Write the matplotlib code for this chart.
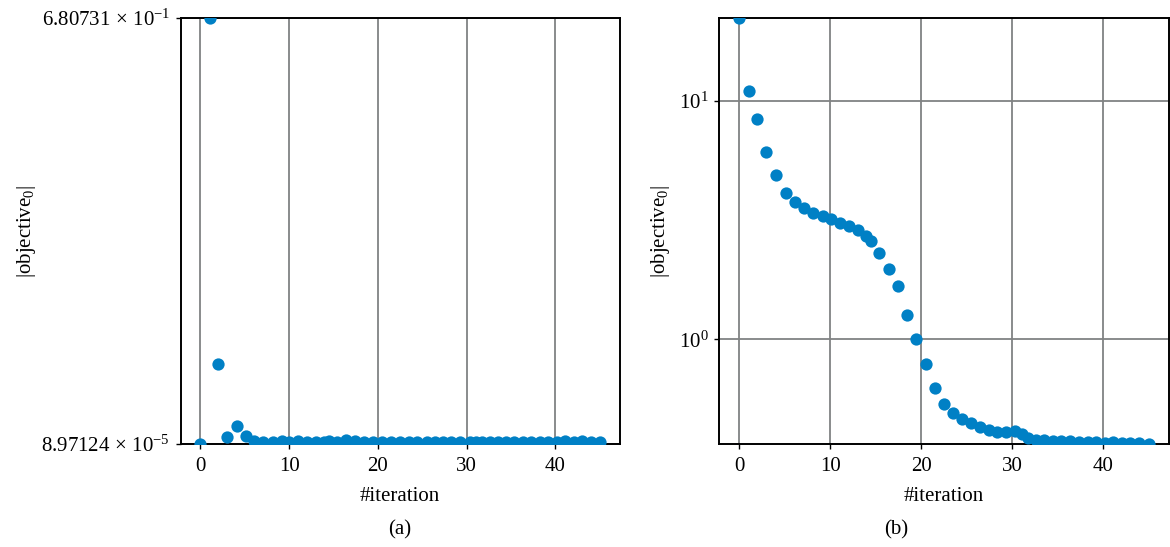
import numpy as np
import matplotlib
matplotlib.use("Agg")
import matplotlib.pyplot as plt
from matplotlib.ticker import NullLocator

plt.rcParams['font.family'] = ['Liberation Serif', 'DejaVu Serif']
plt.rcParams['mathtext.fontset'] = 'custom'
plt.rcParams['mathtext.rm'] = 'Liberation Serif'
plt.rcParams['mathtext.it'] = 'Liberation Serif:italic'
plt.rcParams['font.size'] = 15

# iteration counter (shared by both runs)
iteration = [0.0, 1.03, 1.95, 2.97, 4.07, 5.13, 6.09, 7.1, 8.13, 9.2,
             10.04, 11.03, 12.05, 13.04, 13.9, 14.45, 15.4, 16.45, 17.45, 18.4,
             19.45, 20.5, 21.5, 22.5, 23.5, 24.45, 25.5, 26.45, 27.4, 28.3,
             29.3, 30.35, 31.1, 31.7, 32.6, 33.5, 34.5, 35.4, 36.4, 37.3,
             38.3, 39.2, 40.2, 41.1, 42.1, 43.0, 44.0, 45.0]

# (a) |objective_0|, linear axis
obj_a = [8.97124e-5, 0.680731, 0.128, 0.0107, 0.0289, 0.0128, 0.0052, 0.0036,
         0.0040, 0.0044, 0.0038, 0.0046, 0.0040, 0.0037, 0.0035, 0.0041,
         0.0038, 0.0058, 0.0043, 0.0030, 0.0036, 0.0033, 0.0038, 0.0034,
         0.0037, 0.0036, 0.0033, 0.0040, 0.0035, 0.0034, 0.0038, 0.0030,
         0.0035, 0.0034, 0.0036, 0.0033, 0.0035, 0.0034, 0.0036, 0.0033,
         0.0035, 0.0036, 0.0034, 0.0044, 0.0036, 0.0050, 0.0035, 0.0034]

# (b) |objective_0|, log axis
obj_b = [22.3, 11.06, 8.44, 6.11, 4.88, 4.13, 3.78, 3.57, 3.40, 3.30,
         3.19, 3.07, 3.00, 2.87, 2.71, 2.59, 2.30, 1.97, 1.67, 1.27,
         1.00, 0.785, 0.625, 0.538, 0.490, 0.464, 0.445, 0.431, 0.415, 0.408,
         0.409, 0.414, 0.401, 0.386, 0.380, 0.377, 0.375, 0.374, 0.375, 0.372,
         0.371, 0.370, 0.369, 0.371, 0.368, 0.369, 0.366, 0.364]

dot_color = '#0080c5'
grid_color = '#808283'


def sci_label(v):
    e = int(np.floor(np.log10(v)))
    m = v / 10.0 ** e
    return r'$%.5f\,\times\,10^{%d}$' % (m, e)


def style(ax):
    ax.set_axisbelow(True)
    ax.grid(True, color=grid_color, lw=1.3)
    for s in ax.spines.values():
        s.set_linewidth(1.4)
        s.set_color('black')
    ax.tick_params(direction='out', length=3.5, width=1.0, pad=6)
    ax.tick_params(axis='y', pad=4)
    ax.set_xticks([0, 10, 20, 30, 40])


fig = plt.figure(figsize=(11.70, 5.47), dpi=100)
W, H = 1170.0, 547.0

# ---- (a) linear -----------------------------------------------------------
ax1 = fig.add_axes([180.5 / W, 103 / H, 439 / W, 426 / H])
ax1.scatter(iteration, obj_a, s=78, color=dot_color, lw=0, zorder=3)
lo, hi = min(obj_a), max(obj_a)
ax1.set_ylim(lo, hi)
ax1.set_yticks([lo, hi])
ax1.set_yticklabels([sci_label(lo), sci_label(hi)])
style(ax1)
ax1.set_xlabel('#iteration', labelpad=8)
ax1.set_ylabel(r'$|\mathrm{objective}_0|$')
ax1.yaxis.set_label_coords(-0.325, 0.5)

# ---- (b) log --------------------------------------------------------------
ax2 = fig.add_axes([719 / W, 103 / H, 450 / W, 426 / H])
ax2.scatter(iteration, obj_b, s=78, color=dot_color, lw=0, zorder=3)
ax2.set_yscale('log')
ax2.set_ylim(min(obj_b), max(obj_b))
ax2.set_yticks([1, 10])
ax2.set_yticklabels([r'$10^{0}$', r'$10^{1}$'])
ax2.yaxis.set_minor_locator(NullLocator())
style(ax2)
ax2.set_xlabel('#iteration', labelpad=8)
ax2.set_ylabel(r'$|\mathrm{objective}_0|$')
ax2.yaxis.set_label_coords(-0.105, 0.5)

fig.text(400 / W, 1 - 530 / H, '(a)', ha='center', va='center')
fig.text(896 / W, 1 - 530 / H, '(b)', ha='center', va='center')

fig.savefig('out.png', dpi=100)
